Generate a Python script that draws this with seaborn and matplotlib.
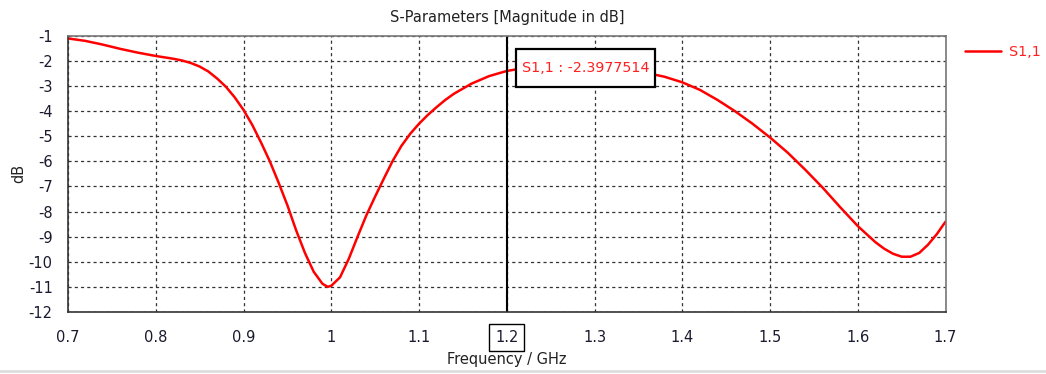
import matplotlib
matplotlib.use("Agg")
import matplotlib.pyplot as plt
import seaborn as sns
import pandas as pd
from matplotlib.lines import Line2D
from matplotlib.patches import Rectangle

# S11 sweep (frequency in GHz, magnitude in dB)
freq_ghz = [0.70, 0.72, 0.74, 0.76, 0.78, 0.80, 0.82, 0.83, 0.84, 0.85,
            0.86, 0.87, 0.88, 0.89, 0.90, 0.91, 0.92, 0.93, 0.94, 0.95,
            0.96, 0.97, 0.98, 0.99, 0.996, 1.00, 1.01, 1.02, 1.03, 1.04,
            1.05, 1.06, 1.07, 1.08, 1.09, 1.10, 1.11, 1.12, 1.13, 1.14,
            1.16, 1.18, 1.20, 1.22, 1.24, 1.26, 1.28, 1.30, 1.32, 1.34,
            1.36, 1.38, 1.40, 1.42, 1.44, 1.46, 1.48, 1.50, 1.52, 1.54,
            1.56, 1.58, 1.60, 1.62, 1.63, 1.64, 1.65, 1.66, 1.67, 1.68,
            1.69, 1.70]
s11_db = [-1.10, -1.20, -1.35, -1.52, -1.67, -1.80, -1.91, -1.98, -2.08, -2.22,
          -2.42, -2.70, -3.03, -3.45, -3.95, -4.55, -5.25, -6.00, -6.85, -7.75,
          -8.75, -9.65, -10.40, -10.88, -11.00, -10.96, -10.62, -9.88, -9.00, -8.15,
          -7.40, -6.68, -5.98, -5.38, -4.90, -4.50, -4.15, -3.84, -3.55, -3.30,
          -2.90, -2.60, -2.3977514, -2.28, -2.21, -2.18, -2.19, -2.23, -2.30, -2.38,
          -2.48, -2.63, -2.85, -3.15, -3.55, -4.00, -4.50, -5.05, -5.65, -6.33,
          -7.05, -7.83, -8.58, -9.22, -9.48, -9.68, -9.80, -9.80, -9.65, -9.32,
          -8.90, -8.40]

x_ticks = [0.7, 0.8, 0.9, 1.0, 1.1, 1.2, 1.3, 1.4, 1.5, 1.6, 1.7]
x_tick_labels = ["0.7", "0.8", "0.9", "1", "1.1", "1.2", "1.3", "1.4", "1.5", "1.6", "1.7"]
y_ticks = [-1, -2, -3, -4, -5, -6, -7, -8, -9, -10, -11, -12]

marker_freq = 1.20
marker_value = -2.3977514
series_name = "S1,1"

df = pd.DataFrame({"Frequency": freq_ghz, "S11": s11_db})

sns.set_style("white")
plt.rcParams["font.family"] = ["DejaVu Sans"]

fig = plt.figure(figsize=(10.46, 3.74), dpi=100)
ax = fig.add_axes([0.065, 0.166, 0.839, 0.738])

sns.lineplot(data=df, x="Frequency", y="S11", ax=ax, color="#ff0000",
             linewidth=1.8, label=series_name, sort=False)

ax.set_xlim(0.7, 1.7)
ax.set_ylim(-12, -1)
ax.set_xticks(x_ticks)
ax.set_xticklabels(x_tick_labels)
ax.set_yticks(y_ticks)
ax.set_yticklabels([str(v) for v in y_ticks])

ax.grid(True, color="#333333", linestyle=(0, (2.5, 2.5)), linewidth=0.9)
ax.tick_params(axis="both", direction="out", length=3, width=1, color="#333333",
               labelsize=10.5, labelcolor="#1a1a2e")
ax.tick_params(axis="x", pad=10)
ax.tick_params(axis="y", pad=8)

for side in ["left", "bottom"]:
    ax.spines[side].set_color("#333333")
    ax.spines[side].set_linewidth(1.2)
for side in ["top", "right"]:
    ax.spines[side].set_color("#777777")
    ax.spines[side].set_linewidth(1.2)

ax.set_title("S-Parameters [Magnitude in dB]", fontsize=10.5, color="#222222", pad=10)
ax.set_xlabel("Frequency / GHz", fontsize=10.5, color="#222222", labelpad=5)
ax.set_ylabel("dB", fontsize=10.5, color="#222222", labelpad=2)

# marker line and its readout
ax.axvline(marker_freq, color="black", linewidth=1.5)
readout = ax.annotate(f"{series_name} : {marker_value:.7f}", xy=(marker_freq, marker_value),
                      xytext=(marker_freq + 0.017, -2.27), textcoords="data",
                      fontsize=10.3, color="#ff2020", ha="left", va="center", zorder=6)

# boxed tick label at the marker frequency
for lbl in ax.get_xticklabels():
    if lbl.get_text() == "1.2":
        lbl.set_bbox(dict(boxstyle="square,pad=0.4", fc="white", ec="black", lw=1))

leg = ax.legend(loc="center left", bbox_to_anchor=(0.9226, 0.861),
                bbox_transform=fig.transFigure, frameon=False, fontsize=10.3,
                handlelength=2.5, handletextpad=0.55, borderpad=0, borderaxespad=0)
for t in leg.get_texts():
    t.set_color("#ff2020")

# frame around the readout, padded more vertically than horizontally
fig.canvas.draw()
ext = readout.get_window_extent(renderer=fig.canvas.get_renderer())
pad_x, pad_y = 6, 12
inv = fig.transFigure.inverted()
(x0, y0) = inv.transform((ext.x0 - pad_x, ext.y0 - pad_y))
(x1, y1) = inv.transform((ext.x1 + pad_x, ext.y1 + pad_y))
fig.add_artist(Rectangle((x0, y0), x1 - x0, y1 - y0, transform=fig.transFigure,
                         facecolor="white", edgecolor="black", linewidth=1.6, zorder=5))
readout.remove()
fig.text(ext.x0 / fig.bbox.width, (ext.y0 + ext.y1) / 2 / fig.bbox.height,
         readout.get_text(), fontsize=10.3, color="#ff2020", ha="left", va="center",
         zorder=6)

fig.add_artist(Line2D([0, 1], [0.008, 0.008], transform=fig.transFigure,
                      color="#dddddd", linewidth=2))

fig.savefig("out.png", dpi=100, facecolor="white")
